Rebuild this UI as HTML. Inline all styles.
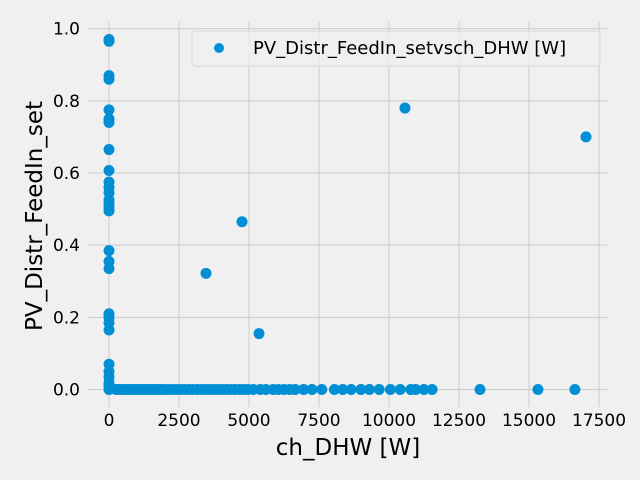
<!DOCTYPE html>
<html><head><meta charset="utf-8"><style>
body{margin:0;background:#f0f0f0;}
svg{display:block;font-family:"DejaVu Sans","Liberation Sans",sans-serif;}
</style></head><body>
<svg id="chart" width="640" height="480" viewBox="0 0 640 480">
<rect width="640" height="480" fill="#f0f0f0"/>
<g id="grid"></g>
<g id="ticks"></g>
<g id="points"></g>
<text x="348" y="455" font-size="23" text-anchor="middle" fill="#000">ch_DHW [W]</text>
<text transform="translate(42,216) rotate(-90)" font-size="23" text-anchor="middle" fill="#000">PV_Distr_FeedIn_set</text>
<g>
<rect x="192" y="31" width="408" height="35" rx="3" fill="#f0f0f0" fill-opacity="0.8" stroke="#d6d6d6"/>
<circle cx="219" cy="48" r="5" fill="#008fd5"/>
<text x="253" y="54" font-size="18" fill="#000">PV_Distr_FeedIn_setvsch_DHW [W]</text>
</g>
</svg>
<script>
const xTicks=[0,2500,5000,7500,10000,12500,15000,17500];
const yTicks=[0.0,0.2,0.4,0.6,0.8,1.0];
const yTickLabels=["0.0","0.2","0.4","0.6","0.8","1.0"];
const xVals=[0,0,0,0,0,0,0,0,0,0,0,0,0,0,0,0,0,0,0,0,0,0,0,0,0,0,0,0,0,
3464,4750,5357,10571,17036,
250,350,450,550,650,750,850,950,1050,1150,1250,1350,1450,1550,1650,1750,1850,1950,2100,2250,2400,2550,2700,2850,3000,3150,3300,3450,3600,3750,3900,4050,4200,4350,4500,4650,4800,4950,5150,5400,5600,5860,
6050,6250,6450,6650,6950,7250,7600,8050,8350,8650,9000,9300,9650,10050,10400,10780,10950,11250,11540,13250,15320,16640];
const yVals=[0.97,0.965,0.87,0.86,0.775,0.75,0.74,0.665,0.607,0.575,0.56,0.545,0.525,0.515,0.505,0.495,0.385,0.355,0.335,0.21,0.2,0.185,0.165,0.07,0.05,0.035,0.02,0.01,0,
0.322,0.465,0.155,0.78,0.70,
0,0,0,0,0,0,0,0,0,0,0,0,0,0,0,0,0,0,0,0,0,0,0,0,0,0,0,0,0,0,0,0,0,0,0,0,0,0,0,0,0,0,
0,0,0,0,0,0,0,0,0,0,0,0,0,0,0,0,0,0,0,0,0,0];
const L=87,R=607,T=22,B=407;
const xmin=-786,xmax=17786,ymin=-0.0485,ymax=1.0185;
function sx(v){return L+(v-xmin)/(xmax-xmin)*(R-L);}
function sy(v){return B-(v-ymin)/(ymax-ymin)*(B-T);}
const NS="http://www.w3.org/2000/svg";
const grid=document.getElementById('grid'),ticks=document.getElementById('ticks'),pts=document.getElementById('points');
function mk(tag,attrs){const e=document.createElementNS(NS,tag);for(const k in attrs)e.setAttribute(k,attrs[k]);return e;}
xTicks.forEach(t=>{
 const l=mk('line',{x1:sx(t),x2:sx(t),y1:T,y2:B,stroke:'#cbcbcb','stroke-width':1});
 
 
 grid.appendChild(l);
 const tx=mk('text',{x:sx(t),y:426,'font-size':17,'text-anchor':'middle',fill:'#000'});
 tx.textContent=String(t);
 
 
 ticks.appendChild(tx);
});
yTicks.forEach((t,i)=>{
 const l=mk('line',{x1:L,x2:R,y1:sy(t),y2:sy(t),stroke:'#cbcbcb','stroke-width':1});
 
 
 grid.appendChild(l);
 const tx=mk('text',{x:80,y:sy(t)+6,'font-size':17,'text-anchor':'end',fill:'#000'});
 tx.textContent=yTickLabels[i];
 
 
 ticks.appendChild(tx);
});
xVals.forEach((x,i)=>{
 const c=mk('circle',{cx:sx(x),cy:sy(yVals[i]),r:5.5,fill:'#008fd5'});
 
 
 pts.appendChild(c);
});
</script>
</body></html>
